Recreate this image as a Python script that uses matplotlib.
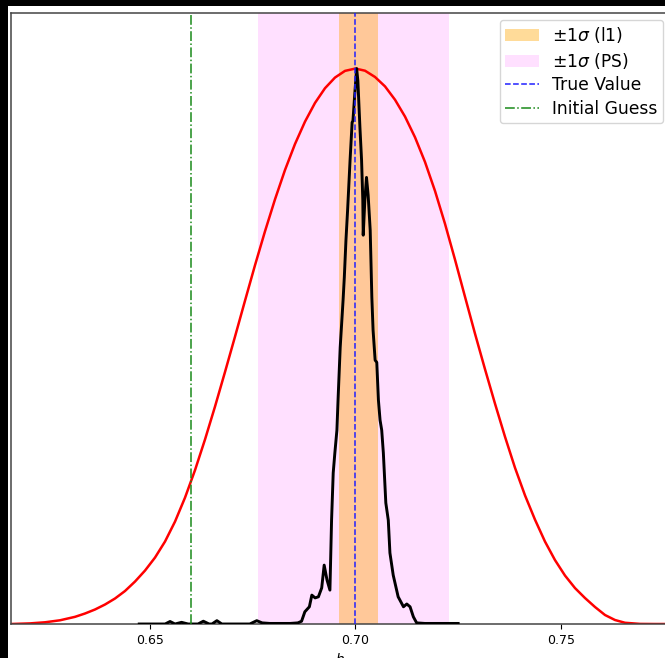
import numpy as np
import matplotlib
matplotlib.use("Agg")
import matplotlib.pyplot as plt
from matplotlib.patches import Rectangle

# prior curve (red), normalised to its peak
prior_h = [0.61620, 0.62083, 0.62448, 0.62813, 0.63178, 0.63421, 0.63664, 0.63908,
           0.64151, 0.64394, 0.64637, 0.64881, 0.65124, 0.65367, 0.65611, 0.65854,
           0.66097, 0.66341, 0.66584, 0.66827, 0.67071, 0.67314, 0.67557, 0.67800,
           0.68044, 0.68287, 0.68530, 0.68774, 0.69017, 0.69260, 0.69504, 0.69747,
           0.70000,
           0.70234, 0.70477, 0.70720, 0.70964, 0.71207, 0.71450, 0.71693, 0.71937,
           0.72180, 0.72423, 0.72667, 0.72910, 0.73153, 0.73397, 0.73640, 0.73883,
           0.74127, 0.74370, 0.74613, 0.74856, 0.75100, 0.75343, 0.75586, 0.75830,
           0.76073, 0.76316, 0.76560, 0.76925, 0.77290, 0.77606]
prior_p = [0.0, 0.0011, 0.0031, 0.0067, 0.0129, 0.0189, 0.0261, 0.0351,
           0.0459, 0.0594, 0.0764, 0.0962, 0.1196, 0.1484, 0.1844, 0.2275,
           0.2769, 0.3323, 0.3915, 0.4537, 0.5175, 0.5821, 0.6459, 0.7069,
           0.7646, 0.8174, 0.8641, 0.9045, 0.9381, 0.9646, 0.9838, 0.9958,
           1.0,
           0.9961, 0.9848, 0.9679, 0.9438, 0.9135, 0.8763, 0.8319, 0.7796,
           0.7205, 0.6561, 0.5890, 0.5227, 0.4588, 0.3966, 0.3371, 0.2813,
           0.2315, 0.1878, 0.1484, 0.1151, 0.0872, 0.0647, 0.0468, 0.0306,
           0.0162, 0.0072, 0.0022, 0.0002, 0.0, 0.0]

# posterior samples density (black), normalised to its peak
post_h = [0.6474, 0.6537, 0.6549, 0.6561, 0.6577, 0.6593, 0.6617, 0.6630,
          0.6644, 0.6651, 0.6663, 0.6675, 0.6743, 0.6760, 0.6773, 0.6792,
          0.6841, 0.6860, 0.6869, 0.6877, 0.6888, 0.6894, 0.6902, 0.6910,
          0.6918, 0.6924, 0.6931, 0.6938, 0.6942, 0.6946, 0.6950, 0.6955,
          0.6958, 0.6963, 0.6970, 0.6973, 0.6977, 0.6981, 0.6987, 0.6992,
          0.6994, 0.6999, 0.7003, 0.7006, 0.7011, 0.7015, 0.7018, 0.7019,
          0.7023, 0.7027, 0.7031, 0.7036, 0.7040, 0.7043, 0.7048, 0.7052,
          0.7056, 0.7060, 0.7064, 0.7068, 0.7074, 0.7080, 0.7084, 0.7092,
          0.7104, 0.7117, 0.7125, 0.7133, 0.7141, 0.7149, 0.7169, 0.7250]
post_p = [0.0, 0.0, 0.0045, 0.0, 0.003, 0.0, 0.0, 0.005,
          0.0, 0.0, 0.006, 0.0, 0.0, 0.006, 0.002, 0.001,
          0.001, 0.002, 0.005, 0.022, 0.031, 0.052, 0.047, 0.049,
          0.065, 0.106, 0.079, 0.061, 0.187, 0.272, 0.308, 0.349,
          0.408, 0.498, 0.583, 0.624, 0.691, 0.745, 0.835, 0.903,
          0.906, 0.960, 1.000, 0.978, 0.894, 0.835, 0.763, 0.700,
          0.763, 0.804, 0.772, 0.709, 0.588, 0.529, 0.475, 0.471,
          0.403, 0.367, 0.349, 0.308, 0.218, 0.187, 0.128, 0.088,
          0.049, 0.031, 0.036, 0.031, 0.013, 0.002, 0.001, 0.001]

h_true = 0.70
h_init = 0.66
l1_band = (0.6961, 0.7055)
ps_band = (0.6764, 0.7228)
xticks = [0.65, 0.70, 0.75]


def main():
    fig = plt.figure(figsize=(6.65, 6.58), dpi=100, facecolor='black')
    # white canvas inset from the black border
    fig.patches.append(Rectangle((8 / 665, 0), 1, 652 / 658, transform=fig.transFigure,
                                 facecolor='white', edgecolor='none', zorder=-10))
    ax = fig.add_axes([11 / 665, 34 / 658, 657 / 665, 611 / 658])

    ax.axvspan(*l1_band, color='orange', alpha=0.4, lw=0, label=r'$\pm1\sigma$ (l1)', zorder=1)
    ax.axvspan(*ps_band, color='magenta', alpha=0.12, lw=0, label=r'$\pm1\sigma$ (PS)', zorder=0.9)
    ax.plot(prior_h, prior_p, color='red', lw=1.8, zorder=2)
    ax.plot(post_h, post_p, color='black', lw=2.1, zorder=3)
    ax.axvline(h_true, color='#2020ff', ls='--', lw=1.1, label='True Value', zorder=4)
    ax.axvline(h_init, color='#1a8a1a', ls='-.', lw=1.1, label='Initial Guess', zorder=4)

    ax.set_xlim(prior_h[0], prior_h[-1])
    ax.set_ylim(0, 1.1)
    ax.set_xticks(xticks)
    ax.set_yticks([])
    ax.tick_params(axis='x', labelsize=9)
    ax.set_xlabel('$h$', fontsize=10, labelpad=4)
    for s in ax.spines.values():
        s.set_color('#444444')
        s.set_linewidth(1.1)

    ax.legend(loc='upper right', bbox_to_anchor=(663 / 665, 1 - 20 / 658),
              bbox_transform=fig.transFigure, borderaxespad=0,
              fontsize=12.3, labelspacing=0.33, borderpad=0.3)

    fig.savefig('out.png', dpi=100, facecolor=fig.get_facecolor())


if __name__ == '__main__':
    main()
